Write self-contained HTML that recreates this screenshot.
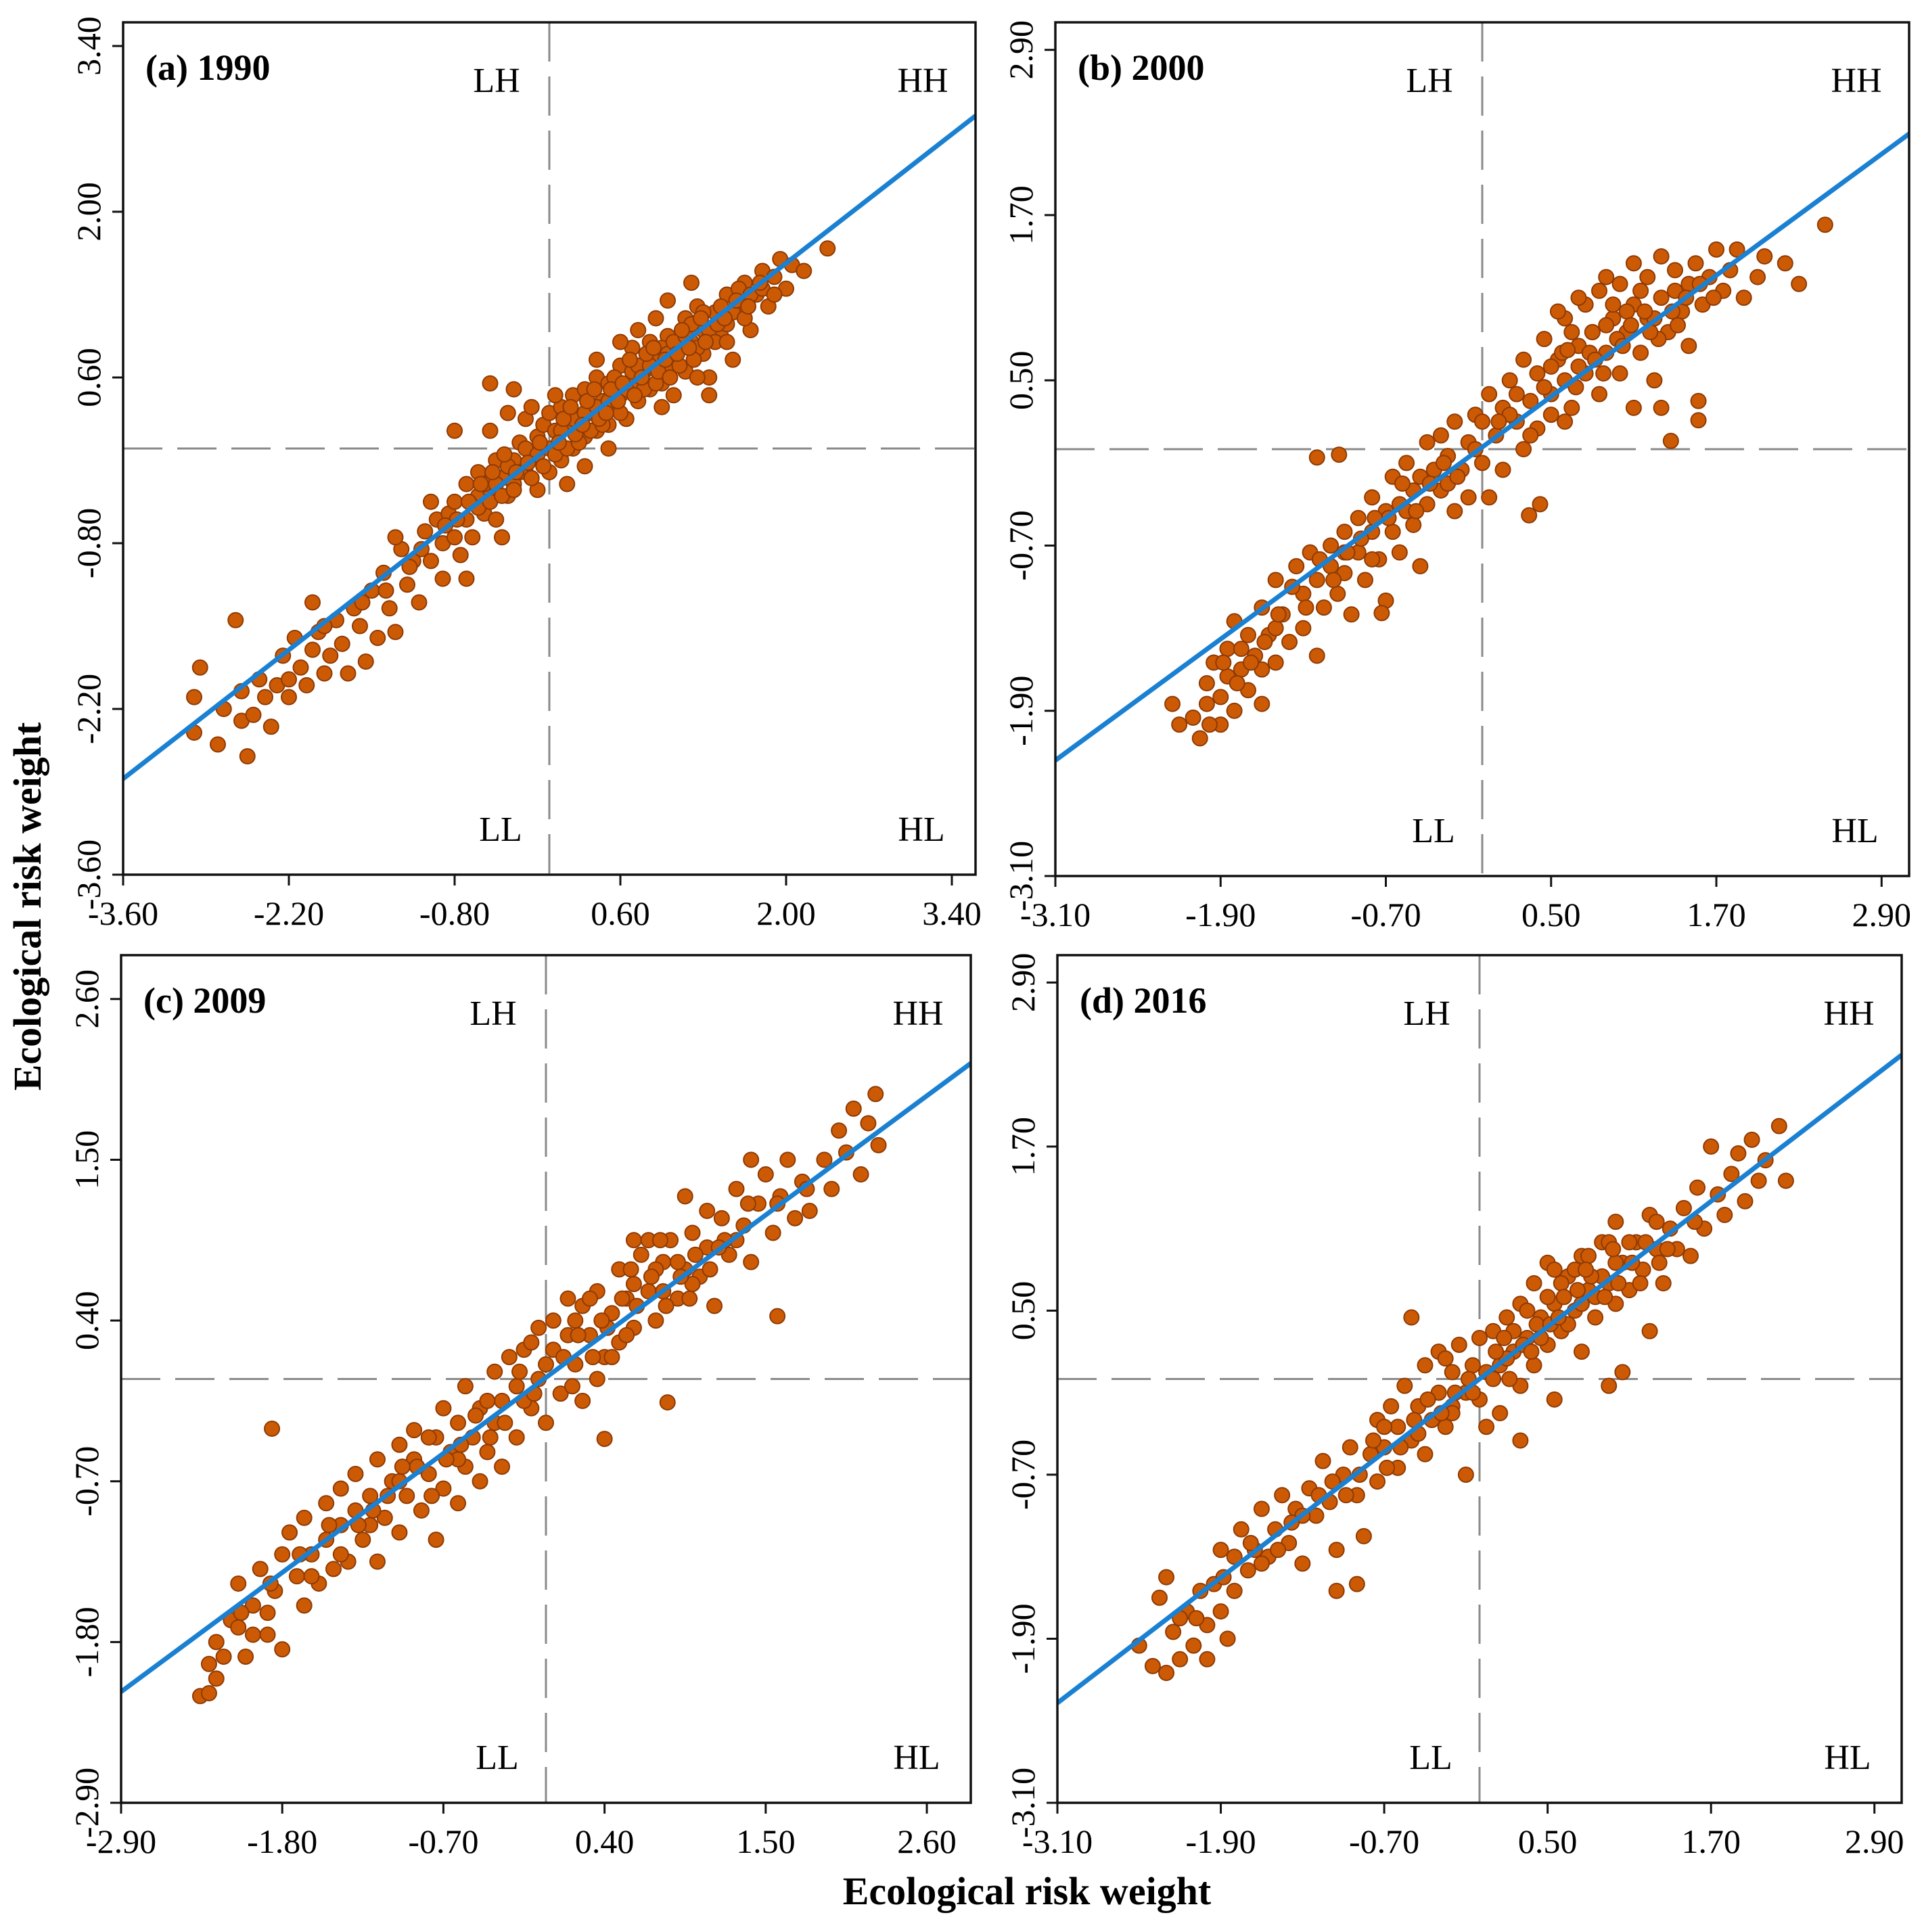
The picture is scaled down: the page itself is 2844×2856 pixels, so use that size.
<!DOCTYPE html>
<html><head><meta charset="utf-8"><style>
html,body{margin:0;padding:0;background:#fff;}
svg{display:block;font-family:"Liberation Serif",serif;}
</style></head><body>
<svg id="chart" width="2844" height="2856" viewBox="0 0 2844 2856" xmlns="http://www.w3.org/2000/svg">
<text x="1518" y="2815" font-size="58" font-weight="bold" text-anchor="middle">Ecological risk weight</text>
<text transform="translate(60,1340) rotate(-90)" font-size="58" font-weight="bold" text-anchor="middle">Ecological risk weight</text>
</svg>
<script>
const panelTitles = ["(a) 1990","(b) 2000","(c) 2009","(d) 2016"];
const axisRanges = [3.6, 3.1, 2.9, 3.1];
const tickStarts = [-3.6, -3.1, -2.9, -3.1];
const tickSteps = [1.4, 1.2, 1.1, 1.2];
const fitLeftY = [-2.79, -2.26, -2.14, -2.37];
const fitRightY = [2.81, 2.29, 2.16, 2.37];
const pointsA = [[-3.0,-2.1],[-3.0,-2.4],[-2.95,-1.85],[-2.8,-2.5],[-2.75,-2.2],[-2.65,-1.45],[-2.6,-2.05],[-2.6,-2.3],[-2.55,-2.6],[-2.5,-2.25],[-2.45,-1.95],[-2.4,-2.1],[-2.35,-2.35],[-2.3,-2.0],[-2.25,-1.75],[-2.2,-1.95],[-2.2,-2.1],[-2.15,-1.6],[-2.1,-1.85],[-2.05,-2.0],[-2.0,-1.7],[-1.95,-1.55],[-1.9,-1.9],[-1.85,-1.75],[-1.8,-1.45],[-1.75,-1.65],[-1.7,-1.9],[-1.65,-1.35],[-1.6,-1.5],[-1.55,-1.8],[-1.5,-1.2],[-1.45,-1.6],[-1.4,-1.05],[-1.35,-1.35],[-1.3,-1.55],[-1.25,-0.85],[-1.2,-1.15],[-1.15,-0.95],[-1.1,-1.3],[-1.05,-0.7],[-1.0,-0.95],[-0.95,-0.6],[-0.9,-1.1],[-0.9,-0.8],[-0.85,-0.55],[-0.8,-0.75],[-0.8,-0.45],[-0.75,-0.9],[-0.7,-0.3],[-0.7,-0.6],[-0.65,-0.75],[-0.6,-0.4],[-0.6,-0.2],[-0.55,-0.55],[-0.5,-0.35],[-0.5,0.15],[-0.45,-0.1],[-0.45,-0.6],[-0.4,-0.25],[-0.35,0.3],[-0.35,-0.4],[-0.3,-0.1],[-0.3,-0.3],[-0.25,0.05],[-0.2,-0.2],[-0.2,0.25],[-0.15,-0.05],[-0.1,0.1],[-0.1,-0.35],[-0.05,0.2],[0,0],[0,0.3],[0,-0.2],[0.05,0.15],[0.1,0.35],[0.1,-0.1],[0.15,0.2],[0.2,0.0],[0.2,0.45],[0.25,0.25],[0.3,0.1],[0.3,0.5],[0.35,0.3],[0.4,0.15],[0.4,0.6],[0.45,0.4],[0.5,0.2],[0.5,0.55],[0.55,0.35],[0.6,0.7],[0.6,0.45],[0.65,0.25],[0.7,0.55],[0.7,0.85],[0.75,0.4],[0.8,0.65],[0.85,0.9],[0.85,0.5],[0.9,0.75],[0.95,0.55],[1.0,0.95],[1.0,0.7],[1.05,0.45],[1.1,0.85],[1.15,1.1],[1.15,0.65],[1.2,0.9],[1.25,1.2],[1.3,0.8],[1.3,1.0],[1.35,0.6],[1.4,1.15],[1.45,0.95],[1.5,1.3],[1.5,1.05],[1.55,0.75],[1.6,1.2],[1.65,1.4],[1.7,1.0],[1.75,1.3],[1.8,1.5],[1.85,1.2],[1.9,1.45],[1.95,1.6],[2.0,1.35],[2.05,1.55],[2.15,1.5],[2.35,1.69],[-0.6,-0.5],[-0.55,-0.3],[-0.5,-0.45],[-0.45,-0.3],[-0.4,-0.4],[-0.35,-0.15],[-0.3,-0.35],[-0.25,-0.2],[-0.2,0.0],[-0.15,-0.25],[-0.1,-0.05],[-0.05,-0.15],[0.05,-0.05],[0.1,0.15],[0.15,0.0],[0.2,0.25],[0.25,0.05],[0.3,0.3],[0.35,0.15],[0.4,0.35],[0.45,0.2],[0.5,0.4],[0.55,0.6],[0.6,0.3],[0.65,0.5],[0.7,0.65],[0.75,0.7],[0.8,0.5],[0.85,0.7],[0.9,0.55],[0.95,0.85],[1.0,0.8],[1.05,0.9],[1.1,0.7],[1.15,0.95],[1.2,1.05],[1.25,0.85],[1.3,1.15],[1.35,1.0],[1.4,0.9],[1.45,1.2],[1.5,0.9],[1.55,1.15],[1.6,1.35],[1.65,1.1],[1.7,1.3],[1.8,1.35],[1.9,1.3],[0.3,-0.15],[0.5,0.0],[0.05,0.45],[-0.15,0.35],[0.6,0.9],[0.9,1.1],[1.2,1.4],[0.75,1.0],[1.0,1.25],[0.4,0.75],[-0.7,-1.1],[-0.4,-0.75],[0.15,-0.3],[1.35,0.45],[1.25,0.6],[0.95,0.35],[-1.3,-0.75],[-1.0,-0.45],[-2.0,-1.3],[-1.9,-1.5],[-0.8,0.15],[-0.5,0.55],[-0.3,0.5],[0.12,0.25],[0.22,0.12],[0.32,0.4],[0.42,0.25],[0.52,0.5],[0.62,0.55],[0.72,0.45],[0.82,0.8],[0.92,0.65],[1.02,0.6],[1.12,1.0],[1.22,0.75],[1.32,0.9],[1.42,1.05],[-0.08,0.05],[-0.18,-0.12],[-0.28,-0.2],[-0.38,-0.05],[-0.48,-0.2],[-0.58,-0.3],[-0.68,-0.45],[-0.78,-0.6],[-0.88,-0.65],[-1.08,-0.85],[-1.18,-1.0],[-1.38,-1.2],[-1.58,-1.3],[0.08,0.05],[0.18,0.35],[0.28,0.2],[0.38,0.5],[0.48,0.3],[0.58,0.4],[0.68,0.75],[0.78,0.6],[0.88,0.85],[0.98,0.75],[1.08,0.8],[1.18,0.85],[1.28,1.1],[1.48,1.1],[1.58,1.25],[1.68,1.2],[1.78,1.4]];
const pointsB = [[-2.25,-1.85],[-2.2,-2.0],[-2.1,-1.95],[-2.05,-2.1],[-2.0,-1.7],[-1.95,-1.55],[-1.9,-1.8],[-1.9,-2.0],[-1.85,-1.45],[-1.85,-1.65],[-1.8,-1.9],[-1.8,-1.25],[-1.75,-1.6],[-1.7,-1.75],[-1.7,-1.35],[-1.65,-1.5],[-1.6,-1.85],[-1.6,-1.15],[-1.55,-1.35],[-1.5,-1.55],[-1.5,-0.95],[-1.45,-1.2],[-1.4,-1.4],[-1.35,-0.85],[-1.3,-1.05],[-1.3,-1.3],[-1.25,-0.75],[-1.2,-0.95],[-1.2,-1.5],[-1.15,-1.15],[-1.1,-0.7],[-1.1,-0.85],[-1.05,-1.05],[-1.0,-0.6],[-1.0,-0.9],[-0.95,-1.2],[-0.9,-0.5],[-0.9,-0.75],[-0.85,-0.95],[-0.8,-0.35],[-0.8,-0.6],[-0.75,-0.8],[-0.7,-0.45],[-0.7,-1.1],[-0.65,-0.2],[-0.65,-0.6],[-0.6,-0.4],[-0.6,-0.75],[-0.55,-0.1],[-0.5,-0.3],[-0.5,-0.55],[-0.45,-0.2],[-0.45,-0.85],[-0.4,0.05],[-0.4,-0.4],[-0.35,-0.15],[-0.3,-0.3],[-0.3,0.1],[-0.25,-0.05],[-0.2,-0.45],[-0.2,0.2],[-0.15,-0.15],[-0.1,0.05],[-0.1,-0.35],[-0.05,0.25],[0,-0.1],[0,0.2],[0.05,-0.35],[0.05,0.4],[0.1,0.1],[0.15,-0.15],[0.15,0.3],[0.2,0.5],[0.25,0.2],[0.3,0.0],[0.3,0.65],[0.35,0.35],[0.4,0.15],[0.4,0.55],[0.45,0.8],[0.5,0.4],[0.5,0.25],[0.55,0.65],[0.6,0.95],[0.6,0.5],[0.65,0.3],[0.7,0.75],[0.75,1.05],[0.75,0.55],[0.8,0.85],[0.85,0.4],[0.85,1.15],[0.9,0.7],[0.95,0.95],[1.0,0.55],[1.0,1.2],[1.05,0.85],[1.1,1.05],[1.15,0.7],[1.2,1.25],[1.2,0.95],[1.25,0.5],[1.3,1.1],[1.35,0.85],[1.4,1.3],[1.45,1.0],[1.5,1.2],[1.5,0.75],[1.55,1.35],[1.6,1.05],[1.65,1.25],[1.7,1.45],[1.75,1.15],[1.8,1.3],[1.85,1.45],[1.9,1.1],[2.0,1.25],[2.05,1.4],[2.2,1.35],[2.3,1.2],[2.49,1.63],[1.37,0.06],[1.57,0.21],[1.57,0.35],[-1.2,-0.06],[-1.04,-0.04],[-0.73,-1.19],[0.34,-0.48],[0.42,-0.4],[0.6,0.2],[1.1,0.3],[1.3,0.3],[0.55,1.0],[0.7,1.1],[0.9,1.25],[1.1,1.35],[1.3,1.4],[0.65,0.85],[0.95,1.05],[1.15,1.15],[1.4,1.15],[0.8,0.85],[1.05,1.0],[1.25,0.95],[-1.6,-1.6],[-1.75,-1.45],[-2.0,-1.85],[-1.5,-1.3],[-1.0,-0.75],[-0.8,-0.8],[0.2,0.25],[0.45,0.45],[0.7,0.6],[0.9,0.9],[-0.25,-0.25],[-0.55,-0.45],[0.58,0.7],[0.68,0.45],[0.78,0.7],[0.88,0.55],[0.98,0.8],[1.08,0.9],[1.18,1.0],[1.28,0.8],[1.38,1.0],[1.48,1.1],[1.58,1.2],[1.68,1.1],[0.35,0.1],[0.25,0.4],[0.12,0.2],[-0.05,0.0],[-0.18,-0.2],[-0.28,-0.1],[-0.38,-0.25],[-0.48,-0.45],[-0.58,-0.25],[-0.68,-0.5],[-0.78,-0.5],[-0.88,-0.65],[-0.98,-0.75],[-1.08,-0.95],[-1.18,-0.8],[-1.28,-1.15],[-1.38,-1.0],[-1.48,-1.2],[-1.58,-1.4],[-1.68,-1.55],[-1.78,-1.7],[-1.88,-1.55],[-1.98,-2.0],[0.5,0.6],[0.62,0.72],[0.82,0.65],[1.02,0.75],[1.22,0.85],[1.42,0.9]];
const pointsC = [[-2.36,-2.17],[-2.3,-1.95],[-2.25,-2.05],[-2.25,-1.8],[-2.2,-1.9],[-2.15,-1.65],[-2.1,-1.4],[-2.05,-1.9],[-2.0,-1.55],[-2.0,-1.75],[-1.95,-1.3],[-1.9,-1.6],[-1.87,-0.34],[-1.85,-1.45],[-1.8,-1.2],[-1.8,-1.85],[-1.75,-1.05],[-1.7,-1.35],[-1.65,-1.55],[-1.65,-0.95],[-1.6,-1.2],[-1.55,-1.4],[-1.5,-0.85],[-1.5,-1.1],[-1.45,-1.3],[-1.4,-0.75],[-1.4,-1.0],[-1.35,-1.25],[-1.3,-0.65],[-1.3,-0.9],[-1.25,-1.1],[-1.2,-0.8],[-1.15,-0.55],[-1.15,-1.25],[-1.1,-0.95],[-1.05,-0.7],[-1.0,-0.45],[-1.0,-1.05],[-0.95,-0.8],[-0.9,-0.55],[-0.9,-0.35],[-0.85,-0.9],[-0.8,-0.65],[-0.75,-0.4],[-0.75,-1.1],[-0.7,-0.2],[-0.7,-0.75],[-0.65,-0.5],[-0.6,-0.3],[-0.6,-0.85],[-0.55,-0.05],[-0.55,-0.6],[-0.5,-0.4],[-0.45,-0.2],[-0.45,-0.7],[-0.4,-0.5],[-0.35,0.05],[-0.35,-0.3],[-0.3,-0.15],[-0.3,-0.6],[-0.25,0.15],[-0.2,-0.4],[-0.2,-0.05],[-0.15,0.2],[-0.1,-0.2],[-0.05,0.35],[-0.05,0.0],[0,-0.3],[0.05,0.2],[0.05,0.4],[0.1,-0.1],[0.15,0.3],[0.2,0.1],[0.25,0.5],[0.25,-0.15],[0.3,0.3],[0.35,0.6],[0.4,0.15],[0.4,-0.41],[0.45,0.45],[0.5,0.75],[0.5,0.25],[0.55,0.55],[0.6,0.35],[0.65,0.85],[0.7,0.6],[0.75,0.4],[0.8,0.8],[0.83,-0.16],[0.85,0.95],[0.9,0.55],[0.95,0.75],[1.0,1.0],[1.05,0.7],[1.1,0.9],[1.15,0.5],[1.2,1.1],[1.25,0.85],[1.3,1.3],[1.35,1.05],[1.4,0.8],[1.45,1.2],[1.5,1.4],[1.55,1.0],[1.58,0.43],[1.6,1.25],[1.7,1.1],[1.75,1.35],[1.8,1.15],[1.9,1.5],[1.95,1.3],[2.0,1.7],[2.05,1.55],[2.1,1.85],[2.15,1.4],[2.2,1.75],[2.25,1.95],[2.27,1.6],[1.4,1.5],[1.65,1.5],[0.95,1.25],[0.6,0.95],[0.2,0.4],[0.3,0.55],[0.45,0.15],[0.6,0.65],[0.7,0.95],[0.8,0.6],[0.9,0.8],[1.0,0.65],[1.1,1.15],[0.35,0.0],[-0.1,0.25],[-0.4,-0.15],[-0.6,-0.55],[-0.8,-0.4],[-1.0,-0.7],[-1.2,-1.0],[-1.4,-1.2],[-1.6,-1.35],[-1.9,-1.75],[-2.1,-1.7],[-2.3,-2.15],[1.3,0.95],[0.15,0.55],[0.0,0.1],[-0.15,-0.15],[0.55,0.3],[0.75,0.75],[0.12,0.15],[0.22,0.3],[0.32,0.15],[0.42,0.35],[0.52,0.55],[0.62,0.5],[0.72,0.7],[0.82,0.5],[0.92,0.7],[1.02,0.85],[1.12,0.75],[1.22,0.95],[-0.08,-0.1],[-0.18,0.05],[-0.28,-0.3],[-0.38,-0.4],[-0.48,-0.25],[-0.58,-0.45],[-0.68,-0.55],[-0.78,-0.8],[-0.88,-0.6],[-0.98,-0.6],[-1.08,-0.8],[-1.18,-0.9],[-1.28,-1.0],[-1.48,-1.0],[-1.68,-1.2],[-1.88,-1.4],[-2.08,-1.6],[0.18,-0.05],[0.38,0.4],[0.58,0.75],[0.78,0.95],[0.98,0.55],[1.18,0.9],[1.38,1.2],[1.58,1.2],[1.78,1.3]];
const pointsD = [[-2.5,-1.95],[-2.4,-2.1],[-2.35,-1.6],[-2.3,-2.15],[-2.3,-1.45],[-2.25,-1.85],[-2.2,-2.05],[-2.15,-1.7],[-2.1,-1.95],[-2.05,-1.55],[-2.0,-1.8],[-2.0,-2.05],[-1.95,-1.5],[-1.9,-1.7],[-1.9,-1.25],[-1.85,-1.9],[-1.8,-1.55],[-1.75,-1.1],[-1.7,-1.4],[-1.65,-1.25],[-1.6,-0.95],[-1.55,-1.3],[-1.5,-1.1],[-1.45,-0.85],[-1.4,-1.2],[-1.35,-0.95],[-1.3,-1.35],[-1.25,-0.8],[-1.2,-1.0],[-1.15,-0.6],[-1.1,-0.9],[-1.05,-1.25],[-1.0,-0.7],[-0.95,-0.5],[-0.9,-0.85],[-0.85,-1.15],[-0.8,-0.55],[-0.75,-0.3],[-0.75,-0.75],[-0.7,-0.5],[-0.65,-0.2],[-0.6,-0.65],[-0.6,-0.35],[-0.55,-0.05],[-0.5,-0.45],[-0.5,0.45],[-0.45,-0.2],[-0.4,-0.55],[-0.4,0.1],[-0.35,-0.3],[-0.3,-0.1],[-0.3,0.2],[-0.25,-0.35],[-0.2,0.05],[-0.2,-0.2],[-0.15,0.25],[-0.1,-0.1],[-0.1,-0.7],[-0.05,0.1],[0,-0.15],[0,0.3],[0.05,0.05],[0.05,-0.35],[0.1,0.35],[0.15,0.1],[0.15,-0.25],[0.2,0.45],[0.25,0.2],[0.3,0.55],[0.3,-0.05],[0.35,0.3],[0.4,0.7],[0.4,0.1],[0.45,0.45],[0.5,0.25],[0.5,0.85],[0.55,0.55],[0.6,0.35],[0.65,0.75],[0.7,0.5],[0.75,0.9],[0.75,0.2],[0.8,0.65],[0.85,0.45],[0.9,1.0],[0.95,0.7],[1.0,0.55],[1.0,1.15],[1.05,0.85],[1.1,0.65],[1.15,1.0],[1.2,0.8],[1.25,1.2],[1.3,0.95],[1.35,0.7],[1.4,1.1],[1.5,1.25],[1.55,0.9],[1.6,1.4],[1.65,1.1],[1.7,1.7],[1.75,1.35],[1.8,1.2],[1.85,1.5],[1.9,1.65],[1.95,1.3],[2.0,1.75],[2.05,1.45],[2.1,1.6],[2.2,1.85],[2.25,1.45],[1.05,0.05],[0.95,-0.05],[0.55,-0.15],[0.3,-0.45],[-0.9,-1.5],[-1.05,-1.55],[1.25,0.35],[0.2,0.15],[0.35,0.5],[0.5,0.6],[0.6,0.7],[0.7,0.8],[0.8,0.9],[0.9,0.75],[1.0,0.85],[0.45,0.3],[0.25,0.35],[0.65,0.4],[0.85,0.6],[1.1,1.0],[-0.2,-0.25],[-0.45,-0.4],[-0.7,-0.35],[-0.25,0.15],[0.1,0.0],[-0.05,-0.1],[1.3,1.15],[1.45,0.95],[-1.6,-1.35],[-1.8,-1.3],[-2.2,-1.75],[-1.3,-1.0],[0.55,0.8],[0.75,0.55],[0.95,1.0],[0.12,0.2],[0.22,0.0],[0.32,0.25],[0.42,0.4],[0.52,0.4],[0.62,0.6],[0.72,0.65],[0.82,0.75],[0.92,0.6],[1.02,0.7],[1.12,0.85],[1.22,1.0],[1.32,0.85],[-0.08,0.0],[-0.18,-0.1],[-0.28,-0.25],[-0.38,-0.15],[-0.48,-0.3],[-0.58,-0.5],[-0.68,-0.65],[-0.78,-0.45],[-0.88,-0.7],[-0.98,-0.85],[-1.08,-0.75],[-1.18,-0.85],[-1.38,-1.05],[-1.48,-1.25],[-1.68,-1.2],[-1.88,-1.45],[-2.08,-1.75],[0.18,0.3],[0.38,0.2],[0.58,0.45],[0.78,0.8],[0.98,0.95],[1.18,0.7],[1.38,0.95],[1.58,1.15]];
const allPoints = [pointsA, pointsB, pointsC, pointsD];

const frames = [{l:182,t:33,w:1260,h:1260},{l:1560,t:33,w:1262,h:1262},{l:179,t:1412,w:1256,h:1253},{l:1563,t:1412,w:1248,h:1253}];
const NS = "http://www.w3.org/2000/svg";
const svg = document.getElementById('chart');
function mk(tag, attrs, parent){const e=document.createElementNS(NS,tag);for(const k in attrs)e.setAttribute(k,attrs[k]);(parent||svg).appendChild(e);return e;}

frames.forEach((f,i)=>{
  const R = axisRanges[i];
  const sx = v => f.l + (v + R) / (2*R) * f.w;
  const sy = v => f.t + f.h - (v + R) / (2*R) * f.h;
  const g = mk('g',{});
  
  
  const clipId = 'clip'+i;
  const cp = mk('clipPath',{id:clipId},g);
  mk('rect',{x:f.l,y:f.t,width:f.w,height:f.h},cp);
  const vd = mk('line',{x1:sx(0),y1:f.t,x2:sx(0),y2:f.t+f.h,stroke:'#8a8a8a','stroke-width':3,'stroke-dasharray':'58 22'},g);
  
  
  const hd = mk('line',{x1:f.l,y1:sy(0),x2:f.l+f.w,y2:sy(0),stroke:'#8a8a8a','stroke-width':3,'stroke-dasharray':'58 22'},g);
  
  
  const pg = mk('g',{'clip-path':'url(#'+clipId+')'},g);
  
  
  allPoints[i].forEach(p=>{
    const c = mk('circle',{cx:sx(p[0]),cy:sy(p[1]),r:11,fill:'#cc5a05',stroke:'#8e3a04','stroke-width':2},pg);
    
    
  });
  const fl = mk('line',{x1:sx(-R),y1:sy(fitLeftY[i]),x2:sx(R),y2:sy(fitRightY[i]),stroke:'#1a80d2','stroke-width':7,'clip-path':'url(#'+clipId+')'},g);
  
  
  const fr = mk('rect',{x:f.l,y:f.t,width:f.w,height:f.h,fill:'none',stroke:'#111','stroke-width':3.5},g);
  
  
  for(let k=0;k<6;k++){
    const v = tickStarts[i] + k*tickSteps[i];
    const lbl = v.toFixed(2);
    mk('line',{x1:sx(v),y1:f.t+f.h,x2:sx(v),y2:f.t+f.h+16,stroke:'#111','stroke-width':3},g);
    const tx = mk('text',{x:sx(v),y:f.t+f.h+74,'font-size':50,'text-anchor':'middle'},g);
    tx.textContent = lbl;
    
    
    mk('line',{x1:f.l,y1:sy(v),x2:f.l-16,y2:sy(v),stroke:'#111','stroke-width':3},g);
    const ty = mk('text',{transform:'translate('+(f.l-34)+','+sy(v)+') rotate(-90)','font-size':50,'text-anchor':'middle'},g);
    ty.textContent = lbl;
    
    
  }
  const tt = mk('text',{x:f.l+33,y:f.t+85,'font-size':54,'font-weight':'bold'},g);
  tt.textContent = panelTitles[i];
  
  
  const q = [['LH',sx(0)-78,f.t+103],['HH',f.l+f.w-78,f.t+103],['LL',sx(0)-72,f.t+f.h-50],['HL',f.l+f.w-80,f.t+f.h-50]];
  q.forEach(a=>{
    const e = mk('text',{x:a[1],y:a[2],'font-size':52,'text-anchor':'middle'},g);
    e.textContent = a[0];
    
    
  });
});
</script>
</body></html>
